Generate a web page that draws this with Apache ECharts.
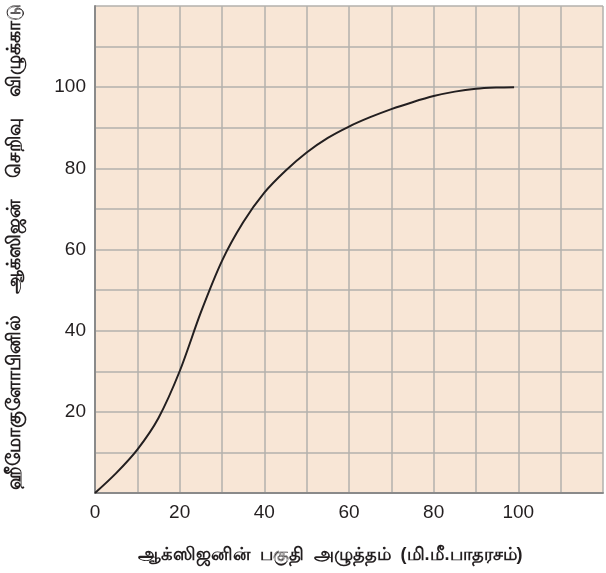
<!DOCTYPE html>
<html>
<head>
<meta charset="utf-8">
<script src="https://cdn.jsdelivr.net/npm/echarts@6/dist/echarts.min.js"></script>
<style>
html, body { margin: 0; padding: 0; background: #fff; }
#chart { width: 606px; height: 573px; }
</style>
</head>
<body>
<div id="chart"></div>
<script>
// partial pressure of oxygen (mm Hg)
var oxygenPressure = [0, 5, 10, 15, 20, 25, 30, 35, 40, 45, 50, 55, 60, 65, 70, 75, 80, 85, 90, 95, 99];
// haemoglobin saturation (%)
var saturation = [0, 4.9, 10.7, 18.5, 30, 44.5, 57.2, 66.7, 74, 79.4, 83.9, 87.5, 90.3, 92.6, 94.6, 96.3, 97.8, 98.9, 99.6, 99.9, 100];

var xTitle = 'ஆக்ஸிஜனின்  பகுதி  அழுத்தம்  (மி.மீ.பாதரசம்)';
var yTitle = 'ஹீமோகுளோபினில்    ஆக்ஸிஜன்    செறிவு    விழுக்காடு';

var curve = [];
for (var i = 0; i < oxygenPressure.length; i++) {
    curve.push([oxygenPressure[i], saturation[i]]);
}

var dom = document.getElementById('chart');
var myChart = echarts.init(dom, null, { renderer: 'canvas' });

var fontFam = 'Liberation Sans, Arial, sans-serif';

var option = {
    animation: false,
    grid: {
        left: 95,
        top: 6,
        width: 514,
        height: 487,
        show: true,
        backgroundColor: '#f8e6d6',
        borderWidth: 0
    },
    xAxis: {
        type: 'value',
        min: 0,
        max: 120,
        interval: 10,
        axisLine: { show: true, lineStyle: { color: '#8a8a8a', width: 2 } },
        axisTick: { show: false },
        splitLine: { show: true, lineStyle: { color: '#b3b0ad', width: 1.5 } },
        axisLabel: {
            margin: 10,
            color: '#231f20',
            fontSize: 19,
            fontFamily: fontFam,
            formatter: function (v) {
                return (v % 20 === 0 && v <= 100) ? String(v) : '';
            }
        }
    },
    yAxis: {
        type: 'value',
        min: 0,
        max: 120,
        interval: 10,
        axisLine: { show: true, lineStyle: { color: '#8a8a8a', width: 2 } },
        axisTick: { show: false },
        splitLine: { show: true, lineStyle: { color: '#b3b0ad', width: 1.5 } },
        axisLabel: {
            margin: 9,
            color: '#231f20',
            fontSize: 19,
            fontFamily: fontFam,
            formatter: function (v) {
                return (v % 20 === 0 && v > 0 && v <= 100) ? String(v) : '';
            }
        }
    },
    graphic: [
        {
            type: 'text',
            x: 330,
            y: 555,
            style: {
                text: xTitle,
                fill: '#231f20',
                font: 'bold 18px sans-serif',
                textAlign: 'center',
                textVerticalAlign: 'middle'
            }
        },
        {
            type: 'text',
            x: 15,
            y: 247,
            rotation: Math.PI / 2,
            style: {
                text: yTitle,
                fill: '#231f20',
                font: 'bold 19px sans-serif',
                textAlign: 'center',
                textVerticalAlign: 'middle'
            }
        }
    ],
    series: [
        {
            type: 'line',
            data: curve,
            smooth: 0.3,
            showSymbol: false,
            lineStyle: { color: '#231f20', width: 2 }
        }
    ]
};

myChart.setOption(option);
</script>
</body>
</html>
